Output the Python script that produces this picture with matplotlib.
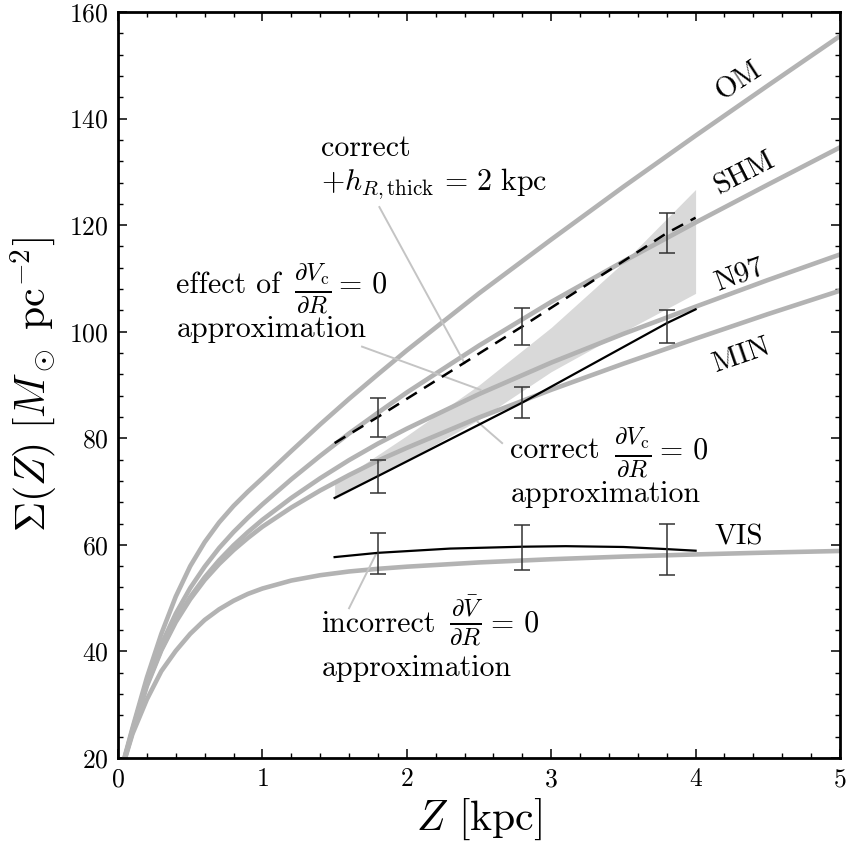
import matplotlib
matplotlib.use("Agg")
import matplotlib.pyplot as plt

plt.rcParams['font.family'] = ['cmr10', 'DejaVu Serif']
plt.rcParams['mathtext.fontset'] = 'cm'
plt.rcParams['axes.formatter.use_mathtext'] = True
plt.rcParams['axes.unicode_minus'] = False

# ---- model curves ----
z = [0.02, 0.05, 0.1, 0.2, 0.3, 0.4, 0.5, 0.6, 0.7, 0.8, 0.9, 1.0, 1.2, 1.4, 1.6, 1.8,
     2.0, 2.5, 3.0, 3.5, 4.0, 4.5, 5.0]
sigma_OM = [17.6, 20.6, 25.6, 35.1, 43.3, 50.3, 56.0, 60.5, 64.2, 67.3, 70.0, 72.5, 77.6, 82.6,
            87.4, 92.0, 96.5, 107.2, 117.3, 127.2, 136.8, 146.2, 155.5]
sigma_SHM = [17.4, 20.4, 25.3, 34.3, 41.3, 47.1, 51.9, 55.9, 59.4, 62.4, 65.1, 67.6, 72.3, 76.7,
             80.9, 84.8, 88.6, 97.4, 105.6, 113.2, 120.5, 127.6, 134.6]
sigma_N97 = [17.4, 20.3, 25.0, 33.8, 40.4, 45.8, 50.2, 53.9, 57.1, 59.9, 62.4, 64.7, 68.8, 72.5,
             75.9, 79.0, 81.8, 88.3, 94.2, 99.6, 104.7, 109.7, 114.5]
sigma_MIN = [17.3, 20.2, 24.8, 33.5, 40.2, 45.5, 49.8, 53.4, 56.4, 59.0, 61.3, 63.4, 67.0, 70.2,
             73.1, 75.8, 78.2, 83.9, 89.1, 94.0, 98.7, 103.3, 107.7]
sigma_VIS = [17.2, 20.0, 24.5, 31.0, 36.3, 40.1, 43.3, 45.9, 47.9, 49.5, 50.8, 51.8, 53.3, 54.3,
             55.0, 55.5, 55.9, 56.7, 57.3, 57.8, 58.2, 58.55, 58.85]

# ---- measurement lines ----
z_line = [1.5, 1.8, 2.8, 3.8, 4.0]
correct_line = [68.8, 72.9, 86.7, 101.6, 104.2]
thick2_line = [79.1, 84.0, 101.0, 118.5, 121.4]
z_vis_line = [1.5, 1.8, 2.3, 2.8, 3.1, 3.5, 3.8, 4.0]
incorrect_line = [57.7, 58.5, 59.3, 59.65, 59.75, 59.6, 59.2, 58.9]

# ---- error bars ----
z_err = [1.8, 2.8, 3.8]
correct_pts = [72.85, 86.65, 101.05]
correct_err = [3.15, 2.9, 3.1]
thick2_pts = [83.9, 101.0, 118.5]
thick2_err = [3.7, 3.5, 3.7]
incorrect_pts = [58.4, 59.5, 59.15]
incorrect_err = [3.8, 4.2, 4.75]

# ---- shaded band ----
band_z = [1.5, 2.0, 2.5, 3.0, 3.5, 4.0]
band_lo = [68.6, 75.8, 83.5, 92.5, 100.0, 107.2]
band_hi = [71.5, 80.5, 90.0, 100.8, 113.0, 126.7]

fig = plt.figure(figsize=(8.46, 8.42), dpi=100)
ax = fig.add_axes([0.1395, 0.0998, 0.8534, 0.8859])

grey = '#b3b3b3'
ax.fill_between(band_z, band_lo, band_hi, color='#d9d9d9', lw=0, zorder=1)
for s in [sigma_OM, sigma_SHM, sigma_N97, sigma_MIN, sigma_VIS]:
    ax.plot(z, s, color=grey, lw=3.3, solid_joinstyle='round', zorder=2)

ax.plot(z_line, correct_line, color='k', lw=1.6, zorder=4)
ax.plot(z_line, thick2_line, color='k', lw=1.8, dashes=(5.0, 3.4), zorder=4)
ax.plot(z_vis_line, incorrect_line, color='k', lw=1.6, zorder=4)

for pts, err in [(correct_pts, correct_err), (thick2_pts, thick2_err), (incorrect_pts, incorrect_err)]:
    ax.errorbar(z_err, pts, yerr=err, fmt='none', ecolor='#333333', elinewidth=1.1,
                capsize=5.5, capthick=1.1, zorder=5)

# pointer lines
pc = '#c4c4c4'
ax.plot([1.81, 2.40], [123.4, 94.1], color=pc, lw=1.4, zorder=3)
ax.plot([1.69, 2.51], [97.2, 89.1], color=pc, lw=1.4, zorder=3)
ax.plot([2.66, 2.49], [79.1, 83.1], color=pc, lw=1.4, zorder=3)
ax.plot([1.60, 1.79], [48.1, 58.45], color=pc, lw=1.4, zorder=3)

fs = 21.5
ffs = 25.5
frac_vc = r'$\frac{\partial V_\mathrm{c}}{\partial R}$'
frac_vbar = r'$\frac{\partial \bar{V}}{\partial R}$'
eq0 = '= 0'

ax.text(1.406, 132.9, 'correct', fontsize=fs, va='baseline', ha='left')
ax.text(1.406, 126.6, r'$+h_{R,\mathrm{thick}}\,=\,2\ \mathrm{kpc}$', fontsize=fs, va='baseline', ha='left')

ax.text(0.399, 107.3, 'effect of', fontsize=fs, va='baseline', ha='left')
ax.text(1.219, 108.1, frac_vc, fontsize=ffs, va='center', ha='left')
ax.text(1.530, 107.3, eq0, fontsize=fs, va='baseline', ha='left')
ax.text(0.406, 99.1, 'approximation', fontsize=fs, va='baseline', ha='left')

ax.text(2.718, 76.25, 'correct', fontsize=fs, va='baseline', ha='left')
ax.text(3.438, 77.2, frac_vc, fontsize=ffs, va='center', ha='left')
ax.text(3.752, 76.25, eq0, fontsize=fs, va='baseline', ha='left')
ax.text(2.718, 68.1, 'approximation', fontsize=fs, va='baseline', ha='left')

ax.text(1.41, 43.7, 'incorrect', fontsize=fs, va='baseline', ha='left')
ax.text(2.292, 45.6, frac_vbar, fontsize=ffs, va='center', ha='left')
ax.text(2.582, 43.7, eq0, fontsize=fs, va='baseline', ha='left')
ax.text(1.41, 35.3, 'approximation', fontsize=fs, va='baseline', ha='left')

lfs = 21
ax.text(4.30, 147.0, 'OM', fontsize=lfs, rotation=33, ha='center', va='center', rotation_mode='anchor')
ax.text(4.34, 129.7, 'SHM', fontsize=lfs, rotation=27, ha='center', va='center', rotation_mode='anchor')
ax.text(4.30, 110.7, 'N97', fontsize=lfs, rotation=20.5, ha='center', va='center', rotation_mode='anchor')
ax.text(4.32, 95.6, 'MIN', fontsize=lfs, rotation=19, ha='center', va='center', rotation_mode='anchor')
ax.text(4.13, 60.0, 'VIS', fontsize=lfs, ha='left', va='baseline')

ax.set_xlim(0, 5)
ax.set_ylim(20, 160)
ax.set_xticks([0, 1, 2, 3, 4, 5])
ax.set_yticks([20, 40, 60, 80, 100, 120, 140, 160])
ax.set_xticks([i * 0.2 for i in range(26)], minor=True)
ax.set_yticks([20 + 4 * i for i in range(36)], minor=True)
ax.tick_params(which='both', direction='in', top=True, right=True, labelsize=18.5, pad=7)
ax.tick_params(which='major', length=6.5, width=1.1)
ax.tick_params(which='minor', length=3.5, width=1.0)
for sp in ax.spines.values():
    sp.set_linewidth(2.0)

ax.set_xlabel(r'$Z$ [kpc]', fontsize=30, labelpad=4)
ax.set_ylabel(r'$\Sigma(Z)\ [M_\odot\ \mathrm{pc}^{-2}]$', fontsize=30, labelpad=6)

fig.savefig('out.png', dpi=100)
